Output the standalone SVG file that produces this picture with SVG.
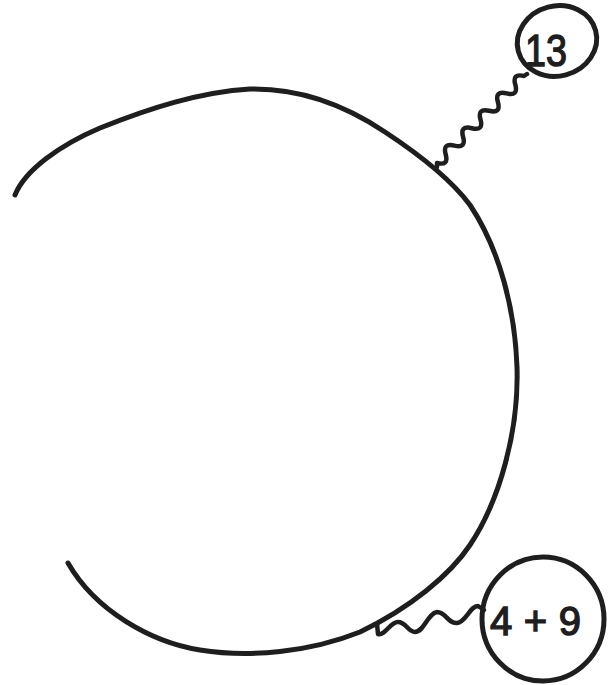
<svg xmlns="http://www.w3.org/2000/svg" width="615" height="685" viewBox="0 0 615 685">
<style>
.ln{fill:none;stroke:#1e1e1e;stroke-width:5;stroke-linecap:round;stroke-linejoin:round}
.wv{fill:none;stroke:#1e1e1e;stroke-width:4.5;stroke-linecap:round;stroke-linejoin:round}
.lbl{font-family:"Liberation Sans",Arial,sans-serif;fill:#1e1e1e;stroke:#1e1e1e;stroke-width:1.4}
</style>
<rect width="615" height="685" fill="#ffffff"/>
<g id="arc">
<path class="ln" d="M15,195 C25,170 60,145 100,128 C150,108 200,92 250,89 C300,88 345,105 385,132 C420,155 450,178 470,205 C500,250 515,310 517,367 C519,430 500,500 470,545 C450,575 410,608 360,632 C310,652 250,658 200,650 C150,642 95,610 68,563"/>
</g>
<g id="node-13">
<ellipse class="ln" cx="557" cy="41" rx="40" ry="35" transform="rotate(-15 557 41)"/>
<text class="lbl" x="525" y="66" font-size="45" textLength="42" lengthAdjust="spacingAndGlyphs">13</text>
</g>
<g id="node-4plus9">
<ellipse class="ln" cx="543" cy="619" rx="61" ry="62"/>
<text class="lbl" x="490" y="635" font-size="40" textLength="91" lengthAdjust="spacing">4+9</text>
</g>
<g id="connectors">
<path class="wv" d="M437,167 L437,163 Q449,166 445.7,154.3 T454.4,145.6 T463.1,136.9 T471.8,128.2 T480.5,119.5 T489.2,110.8 T497.9,102.1 T506.6,93.4 T515.3,84.7 T524,76 L527,74"/>
<path class="wv" d="M377,624 L378,634 C385,636 390,622 398,622 C406,622 408,632 415,632 C424,632 428,613 437,612 C446,612 448,624 457,623 C466,622 470,606 478,606 L484,610"/>
</g>
</svg>
